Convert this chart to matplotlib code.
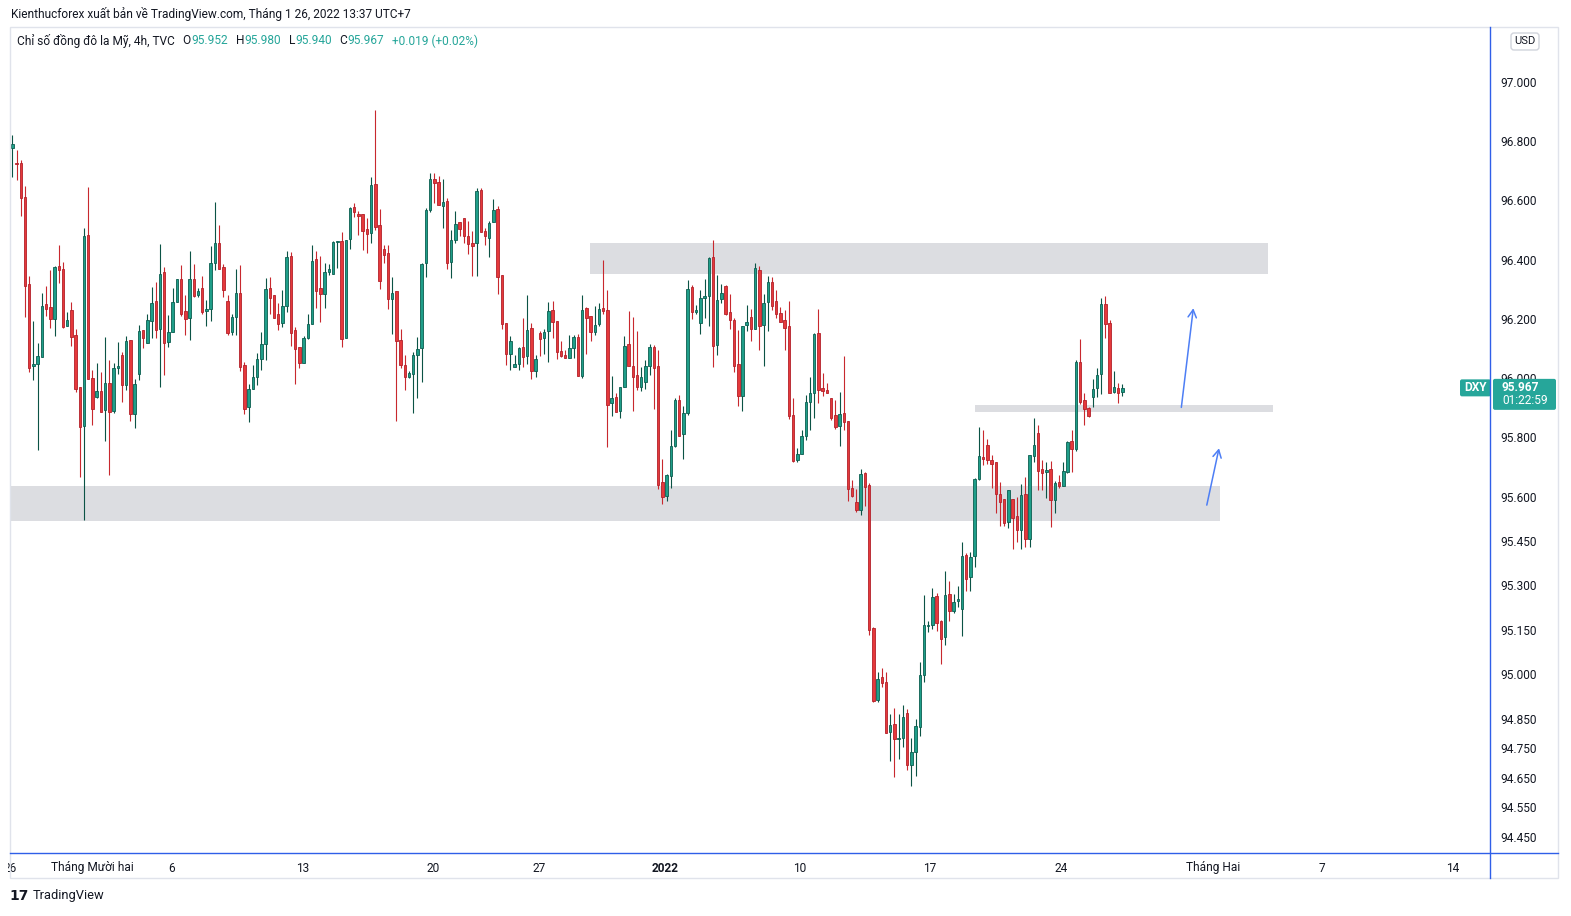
import numpy as np
import matplotlib
matplotlib.use('Agg')
import matplotlib.pyplot as plt
from matplotlib.patches import Rectangle, FancyBboxPatch

W, H = 1571, 916
plt.rcParams['font.family'] = ['Roboto', 'DejaVu Sans']

# ---------------- data (DXY 4h candles) ----------------
opens = [
    96.778, 96.725, 96.725, 96.611, 96.318, 96.042, 96.049, 96.072, 96.249, 96.240,
    96.201, 96.377, 96.370, 96.177, 96.229, 96.144, 95.969, 95.839, 96.482, 95.999,
    95.937, 95.958, 95.893, 95.985, 95.890, 96.034, 96.077, 95.978, 96.127, 95.880,
    96.014, 96.161, 96.119, 96.194, 96.259, 96.167, 96.357, 96.123, 96.154, 96.257,
    96.333, 96.225, 96.204, 96.333, 96.280, 96.303, 96.227, 96.234, 96.390, 96.455,
    96.374, 96.259, 96.155, 96.207, 96.289, 96.043, 95.901, 95.962, 96.005, 96.065,
    96.116, 96.303, 96.279, 96.218, 96.187, 96.244, 96.411, 96.161, 96.104, 96.052,
    96.136, 96.184, 96.401, 96.303, 96.285, 96.358, 96.352, 96.459, 96.463, 96.135,
    96.471, 96.577, 96.553, 96.554, 96.502, 96.489, 96.654, 96.516, 96.435, 96.421,
    96.266, 96.293, 96.127, 96.043, 96.005, 96.015, 96.079, 96.100, 96.387, 96.568,
    96.674, 96.662, 96.582, 96.597, 96.393, 96.468, 96.526, 96.539, 96.480, 96.455,
    96.455, 96.635, 96.497, 96.472, 96.526, 96.571, 96.347, 96.185, 96.080, 96.036,
    96.048, 96.104, 96.073, 96.168, 96.024, 96.151, 96.134, 96.158, 96.230, 96.194,
    96.090, 96.078, 96.067, 96.103, 96.139, 96.008, 96.237, 96.210, 96.154, 96.184,
    96.237, 96.230, 95.915, 95.936, 95.890, 95.969, 96.115, 96.041, 96.009, 95.971,
    95.988, 96.042, 96.105, 96.041, 95.648, 95.603, 95.670, 95.772, 95.926, 95.812,
    95.882, 96.306, 96.223, 96.187, 96.271, 96.278, 96.409, 96.113, 96.268, 96.311,
    96.223, 96.196, 96.047, 95.940, 96.178, 96.205, 96.167, 96.365, 96.180, 96.258,
    96.326, 96.262, 96.220, 96.195, 96.175, 95.877, 95.723, 95.742, 95.805, 95.919,
    95.950, 96.151, 95.966, 95.960, 95.932, 95.875, 95.839, 95.881, 95.854, 95.628,
    95.582, 95.556, 95.678, 95.640, 95.156, 94.914, 94.989, 94.974, 94.806, 94.831,
    94.782, 94.785, 94.869, 94.693, 94.738, 94.823, 94.998, 95.164, 95.165, 95.265,
    95.179, 95.127, 95.271, 95.215, 95.246, 95.221, 95.403, 95.327, 95.400, 95.658,
    95.735, 95.773, 95.722, 95.715, 95.610, 95.590, 95.515, 95.590, 95.533, 95.488,
    95.607, 95.458, 95.738, 95.813, 95.692, 95.684, 95.692, 95.589, 95.649, 95.636,
    95.683, 95.789, 95.762, 96.056, 95.925, 95.899, 95.937, 95.967, 96.015, 96.249,
    96.185, 95.954, 95.965, 95.952,
]
highs = [
    96.821, 96.770, 96.736, 96.649, 96.345, 96.193, 96.117, 96.288, 96.311, 96.365,
    96.378, 96.449, 96.391, 96.223, 96.257, 96.166, 95.969, 96.507, 96.644, 96.027,
    96.051, 96.020, 96.139, 96.060, 96.050, 96.122, 96.088, 96.142, 96.127, 95.996,
    96.179, 96.164, 96.216, 96.307, 96.324, 96.453, 96.376, 96.213, 96.304, 96.333,
    96.382, 96.280, 96.429, 96.385, 96.305, 96.345, 96.263, 96.446, 96.594, 96.516,
    96.385, 96.279, 96.218, 96.368, 96.382, 96.056, 95.980, 96.043, 96.086, 96.154,
    96.338, 96.341, 96.279, 96.252, 96.297, 96.430, 96.425, 96.171, 96.104, 96.142,
    96.216, 96.449, 96.429, 96.413, 96.389, 96.385, 96.463, 96.463, 96.493, 96.468,
    96.579, 96.590, 96.563, 96.554, 96.540, 96.678, 96.905, 96.571, 96.448, 96.448,
    96.341, 96.293, 96.166, 96.077, 96.023, 96.087, 96.139, 96.388, 96.573, 96.691,
    96.691, 96.681, 96.672, 96.607, 96.500, 96.564, 96.526, 96.539, 96.531, 96.497,
    96.642, 96.641, 96.507, 96.531, 96.605, 96.580, 96.347, 96.185, 96.142, 96.077,
    96.106, 96.203, 96.280, 96.185, 96.077, 96.159, 96.166, 96.257, 96.260, 96.194,
    96.125, 96.095, 96.145, 96.145, 96.149, 96.280, 96.240, 96.210, 96.243, 96.253,
    96.399, 96.297, 96.008, 95.949, 95.970, 96.142, 96.226, 96.206, 96.159, 96.037,
    96.061, 96.115, 96.112, 96.095, 95.727, 95.676, 95.825, 95.933, 95.943, 95.906,
    96.331, 96.314, 96.247, 96.297, 96.335, 96.409, 96.466, 96.348, 96.318, 96.314,
    96.284, 96.203, 96.162, 96.176, 96.247, 96.233, 96.389, 96.380, 96.284, 96.345,
    96.340, 96.297, 96.240, 96.230, 96.260, 95.932, 95.764, 95.824, 95.943, 96.003,
    96.152, 96.233, 96.017, 95.983, 95.932, 95.926, 95.953, 96.074, 95.854, 95.656,
    95.626, 95.693, 95.684, 95.645, 95.158, 95.007, 95.020, 95.007, 94.866, 94.886,
    94.866, 94.895, 94.882, 94.783, 94.849, 95.041, 95.268, 95.180, 95.291, 95.273,
    95.183, 95.349, 95.315, 95.272, 95.299, 95.447, 95.408, 95.413, 95.664, 95.835,
    95.824, 95.794, 95.740, 95.715, 95.649, 95.590, 95.621, 95.590, 95.597, 95.642,
    95.666, 95.739, 95.865, 95.841, 95.723, 95.716, 95.719, 95.651, 95.672, 95.716,
    95.788, 95.824, 96.061, 96.132, 95.948, 95.903, 95.997, 96.033, 96.269, 96.277,
    96.195, 96.024, 95.982, 95.980,
]
lows = [
    96.680, 96.669, 96.547, 96.207, 96.021, 95.993, 95.757, 96.072, 96.210, 96.169,
    96.142, 96.322, 96.169, 96.177, 96.108, 95.953, 95.667, 95.520, 95.996, 95.841,
    95.934, 95.886, 95.788, 95.672, 95.883, 96.014, 95.919, 95.960, 95.856, 95.831,
    95.993, 96.100, 96.119, 96.135, 96.135, 95.971, 96.010, 96.106, 96.154, 96.257,
    96.210, 96.145, 96.128, 96.275, 96.275, 96.218, 96.176, 96.194, 96.365, 96.369,
    96.275, 96.146, 96.146, 96.146, 96.025, 95.878, 95.851, 95.962, 95.976, 96.029,
    96.061, 96.218, 96.204, 96.164, 96.171, 96.223, 96.108, 95.980, 96.034, 96.052,
    96.133, 96.184, 96.236, 96.189, 96.236, 96.349, 96.352, 96.372, 96.105, 96.135,
    96.437, 96.545, 96.483, 96.432, 96.422, 96.455, 96.500, 96.302, 96.390, 96.234,
    96.149, 95.856, 96.035, 95.961, 96.001, 95.883, 95.934, 95.988, 96.342, 96.562,
    96.592, 96.583, 96.508, 96.369, 96.339, 96.457, 96.480, 96.457, 96.420, 96.346,
    96.346, 96.492, 96.450, 96.410, 96.526, 96.285, 96.167, 96.043, 96.026, 96.036,
    96.026, 96.039, 96.046, 95.996, 96.005, 96.073, 96.080, 96.053, 96.137, 96.063,
    96.072, 96.069, 96.067, 96.069, 96.008, 96.001, 96.082, 96.126, 96.146, 96.176,
    96.215, 95.768, 95.873, 95.886, 95.866, 95.969, 96.040, 95.890, 95.960, 95.957,
    95.964, 96.009, 95.897, 95.626, 95.576, 95.586, 95.630, 95.768, 95.805, 95.728,
    95.876, 96.201, 96.215, 96.150, 96.203, 96.176, 96.038, 96.078, 96.253, 96.214,
    96.167, 96.022, 95.907, 95.890, 96.159, 96.126, 96.167, 96.095, 96.042, 96.160,
    96.231, 96.204, 96.190, 96.095, 95.863, 95.715, 95.717, 95.742, 95.791, 95.824,
    95.865, 95.917, 95.940, 95.950, 95.859, 95.829, 95.771, 95.826, 95.586, 95.597,
    95.549, 95.539, 95.569, 95.132, 94.907, 94.907, 94.958, 94.803, 94.707, 94.654,
    94.714, 94.755, 94.676, 94.624, 94.657, 94.791, 94.975, 95.144, 95.152, 95.147,
    95.036, 95.100, 95.181, 95.208, 95.226, 95.130, 95.282, 95.282, 95.363, 95.656,
    95.706, 95.710, 95.630, 95.545, 95.501, 95.501, 95.493, 95.424, 95.445, 95.424,
    95.430, 95.430, 95.716, 95.622, 95.622, 95.596, 95.498, 95.545, 95.630, 95.636,
    95.680, 95.683, 95.755, 95.914, 95.842, 95.869, 95.902, 95.935, 95.947, 96.136,
    95.950, 95.950, 95.917, 95.940,
]
closes = [
    96.790, 96.722, 96.609, 96.312, 96.035, 96.046, 96.074, 96.245, 96.234, 96.201,
    96.374, 96.366, 96.173, 96.196, 96.140, 95.964, 95.836, 96.480, 95.996, 95.894,
    95.955, 95.886, 95.982, 95.886, 96.033, 96.041, 95.978, 96.125, 95.880, 95.979,
    96.158, 96.136, 96.195, 96.252, 96.164, 96.351, 96.119, 96.154, 96.256, 96.333,
    96.217, 96.201, 96.333, 96.278, 96.293, 96.224, 96.233, 96.387, 96.455, 96.369,
    96.298, 96.153, 96.205, 96.286, 96.038, 95.897, 95.962, 96.002, 96.063, 96.114,
    96.300, 96.271, 96.204, 96.184, 96.242, 96.408, 96.153, 96.099, 96.052, 96.135,
    96.181, 96.394, 96.294, 96.285, 96.357, 96.367, 96.458, 96.462, 96.133, 96.468,
    96.574, 96.562, 96.548, 96.498, 96.486, 96.651, 96.510, 96.329, 96.417, 96.266,
    96.289, 96.124, 96.045, 96.002, 96.016, 96.077, 96.097, 96.385, 96.566, 96.674,
    96.660, 96.583, 96.595, 96.390, 96.468, 96.522, 96.504, 96.479, 96.452, 96.447,
    96.632, 96.492, 96.479, 96.524, 96.566, 96.343, 96.181, 96.080, 96.124, 96.046,
    96.101, 96.070, 96.164, 96.024, 96.063, 96.131, 96.154, 96.226, 96.188, 96.087,
    96.076, 96.069, 96.101, 96.139, 96.008, 96.230, 96.204, 96.157, 96.179, 96.233,
    96.228, 95.910, 95.933, 95.886, 95.970, 96.110, 96.040, 96.005, 95.971, 96.004,
    96.041, 96.105, 96.035, 95.639, 95.599, 95.673, 95.769, 95.926, 95.805, 95.882,
    96.301, 96.222, 96.230, 96.270, 96.277, 96.405, 96.109, 96.264, 96.286, 96.217,
    96.195, 96.042, 95.938, 96.176, 96.189, 96.167, 96.372, 96.177, 96.252, 96.323,
    96.244, 96.217, 96.190, 96.170, 95.873, 95.719, 95.743, 95.804, 95.919, 95.948,
    96.148, 95.961, 95.958, 95.950, 95.866, 95.836, 95.878, 95.853, 95.626, 95.603,
    95.556, 95.676, 95.633, 95.149, 94.909, 94.984, 94.971, 94.803, 94.828, 94.782,
    94.785, 94.855, 94.692, 94.736, 94.825, 94.997, 95.166, 95.166, 95.261, 95.174,
    95.120, 95.269, 95.213, 95.244, 95.254, 95.399, 95.323, 95.396, 95.659, 95.737,
    95.726, 95.723, 95.711, 95.607, 95.582, 95.511, 95.621, 95.528, 95.486, 95.604,
    95.455, 95.739, 95.773, 95.687, 95.680, 95.688, 95.587, 95.644, 95.636, 95.685,
    95.785, 95.759, 96.053, 95.918, 95.896, 95.871, 95.962, 96.012, 96.249, 96.181,
    95.950, 95.970, 95.948, 95.967,
]

ytick_values = [97.0, 96.8, 96.6, 96.4, 96.2, 96.0, 95.8, 95.6, 95.45, 95.3,
                95.15, 95.0, 94.85, 94.75, 94.65, 94.55, 94.45]
# date labels, positioned in candle-index units
xtick_pos = [-0.45, 18.88, 37.84, 68.88, 99.68, 124.80, 154.65, 186.64,
             217.44, 248.48, 284.49, 310.32, 341.35]
xtick_labels = ['26', 'Tháng Mười hai', '6', '13', '20', '27', '2022', '10',
                '17', '24', 'Tháng Hai', '7', '14']

# drawn zones: (x_start, x_end, price_low, price_high)
zone_x0 = [136.9, -0.6, 228.1]
zone_x1 = [297.5, 286.1, 298.7]
zone_lo = [96.353, 95.518, 95.887]
zone_hi = [96.457, 95.637, 95.909]
# drawn arrows: start / tip (index, price)
arrow_start = [(276.97, 95.901), (283.0, 95.571)]
arrow_tip = [(279.81, 96.236), (285.9, 95.763)]

assert len(opens) == len(highs) == len(lows) == len(closes)

# ---------------- styles ----------------
UP_FILL, UP_EDGE, UP_WICK = '#1f9e89', '#0b5e50', '#0b5345'
DN_FILL, DN_EDGE, DN_WICK = '#e5393b', '#b3202a', '#c8282e'
TEAL = '#26a69a'
TXT = '#131722'
BLUE = '#2f5fe8'
FS = 8.6

fig = plt.figure(figsize=(W / 100, H / 100), dpi=100)
fig.patch.set_facecolor('white')

def fx(px):
    return px / W

def fy(py):
    return 1 - py / H

# main price axes: x 10..1490, y 27..852.5
ax = fig.add_axes([fx(10), fy(852.5), fx(1480), (852.5 - 27) / H])
ax.set_facecolor('white')
for s in ax.spines.values():
    s.set_visible(False)

o = np.array(opens); h = np.array(highs); l = np.array(lows); c = np.array(closes)
idx = np.arange(len(o))
up = c >= o
dn = ~up

ax.vlines(idx[up], l[up], h[up], color=UP_WICK, lw=0.8, zorder=2)
ax.vlines(idx[dn], l[dn], h[dn], color=DN_WICK, lw=0.8, zorder=2)
body_h = np.maximum(np.abs(c - o), 0.003)
body_b = np.minimum(o, c)
ax.bar(idx[up], body_h[up], bottom=body_b[up], width=0.58, color=UP_FILL,
       edgecolor=UP_EDGE, linewidth=0.6, zorder=3)
ax.bar(idx[dn], body_h[dn], bottom=body_b[dn], width=0.58, color=DN_FILL,
       edgecolor=DN_EDGE, linewidth=0.6, zorder=3)

for x0, x1, lo, hi in zip(zone_x0, zone_x1, zone_lo, zone_hi):
    ax.add_patch(Rectangle((x0, lo), x1 - x0, hi - lo, facecolor='#dcdde1',
                           edgecolor='none', zorder=1))

for st, tp in zip(arrow_start, arrow_tip):
    ax.annotate('', xy=tp, xytext=st,
                arrowprops=dict(arrowstyle='->,head_length=0.55,head_width=0.3',
                                color='#4d7ef5', lw=1.1, shrinkA=0, shrinkB=0),
                zorder=4)

ax.set_xlim(-0.545, 350.1)
ax.set_ylim(94.3978, 97.1857)
ax.set_xticks([])
ax.yaxis.tick_right()
ax.set_yticks(ytick_values)
ax.set_yticklabels([f'{v:.3f}' for v in ytick_values])
ax.tick_params(axis='y', length=0, pad=7.2, labelsize=FS, labelcolor=TXT)

# time scale strip
tax = fig.add_axes([fx(8), fy(878), fx(1482), (878 - 853) / H])
tax.set_xlim(-0.545 - 2 / 4.2205, 350.1)
tax.set_ylim(0, 1)
tax.axis('off')
for p, lab in zip(xtick_pos, xtick_labels):
    tax.text(p, 0.40, lab, ha='center', va='center', fontsize=FS, color=TXT,
             fontweight='bold' if lab == '2022' else 'normal', clip_on=True)

# overlay in pixel coordinates
ov = fig.add_axes([0, 0, 1, 1], zorder=10)
ov.set_xlim(0, W)
ov.set_ylim(H, 0)
ov.axis('off')

def ypix(price):
    return H - ax.transData.transform((0, price))[1]

# frame and scale borders
ov.add_patch(Rectangle((10, 27), 1548, 851, fill=False, edgecolor='#e0e3eb', lw=1))
ov.plot([1490, 1490], [27, 878], color=BLUE, lw=1)
ov.plot([10, 1558], [852.5, 852.5], color=BLUE, lw=1)

# header
ov.text(11, 14, 'Kienthucforex xuất bản về TradingView.com, Tháng 1 26, 2022 13:37 UTC+7',
        fontsize=FS, color=TXT, va='center', ha='left')

# legend line
fig.canvas.draw()
r = fig.canvas.get_renderer()
chg = closes[-1] - closes[-2]
pct = chg / closes[-2] * 100
segments = [
    ('Chỉ số đồng đô la Mỹ, 4h, TVC', TXT, 8),
    ('O', TXT, 0), (f'{opens[-1]:.3f}', TEAL, 8),
    ('H', TXT, 0), (f'{highs[-1]:.3f}', TEAL, 8),
    ('L', TXT, 0), (f'{lows[-1]:.3f}', TEAL, 8),
    ('C', TXT, 0), (f'{closes[-1]:.3f}', TEAL, 8),
    (f'{chg:+.3f} ({pct:+.2f}%)', TEAL, 0),
]
xcur = 17
for txt, col, gap in segments:
    t = ov.text(xcur, 41, txt, color=col, fontsize=FS, va='center', ha='left')
    bb = t.get_window_extent(renderer=r)
    xcur = bb.x1 + gap

# USD badge
ov.add_patch(FancyBboxPatch((1511, 33), 28, 17, boxstyle='round,pad=0,rounding_size=3',
                            facecolor='white', edgecolor='#d1d4dc', lw=1))
ov.text(1525, 41.5, 'USD', fontsize=8, color=TXT, ha='center', va='center')

# last price labels
yc = ypix(closes[-1])
ov.add_patch(FancyBboxPatch((1460, yc - 8.5), 31, 17, boxstyle='round,pad=0,rounding_size=2',
                            facecolor=TEAL, edgecolor='none'))
ov.text(1475.5, yc, 'DXY', fontsize=FS, color='white', fontweight='bold',
        ha='center', va='center')
ov.add_patch(FancyBboxPatch((1493, yc - 9), 63, 31, boxstyle='round,pad=0,rounding_size=2',
                            facecolor=TEAL, edgecolor='none'))
ov.text(1502, yc - 0.5, f'{closes[-1]:.3f}', fontsize=FS, color='white', fontweight='bold',
        ha='left', va='center')
ov.text(1502, yc + 13, '01:22:59', fontsize=FS, color='white', ha='left', va='center')

# TradingView logo
ov.text(9, 896, '17', fontsize=10, color=TXT, fontweight='heavy', ha='left', va='center',
        family=['DejaVu Sans'])
ov.text(33, 896, 'TradingView', fontsize=9.3, color=TXT, ha='left', va='center')

fig.savefig('out.png', dpi=100, facecolor='white')
